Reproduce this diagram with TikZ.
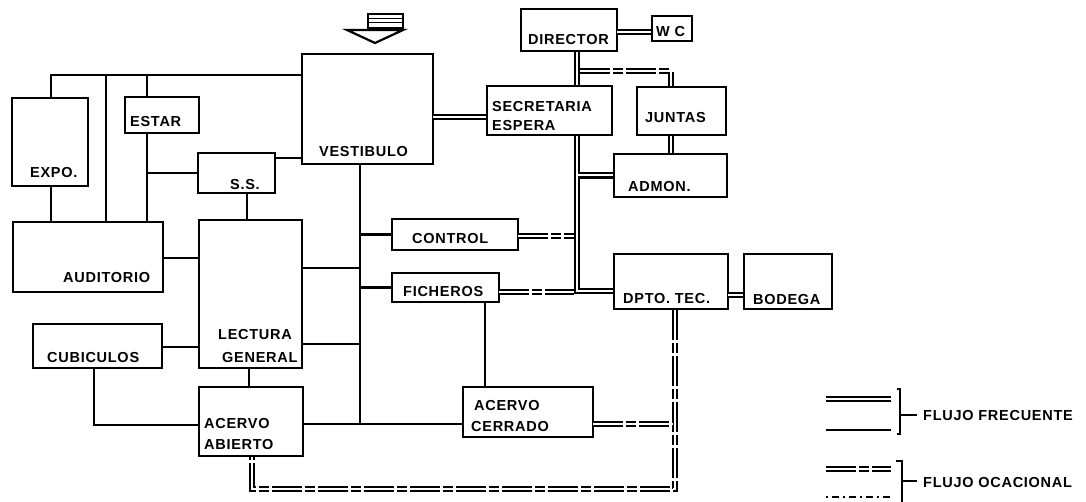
\documentclass[tikz,border=0pt]{standalone}
\usepackage{fontspec}
\newfontfamily\planofont{Liberation Sans}[LetterSpace=5]
\usepackage{tikz}
\usetikzlibrary{positioning, calc, fit}
\tikzset{
  room/.style={draw, line width=2.7pt, inner sep=0pt},
  lbl/.style={font=\planofont\bfseries\fontsize{14.5}{16}\selectfont,
    inner sep=0pt, anchor=base west},
  frecuente/.style={line width=2.6pt},
  leve/.style={line width=1.3pt},
  dobfrec/.style={double, line width=2.4pt, double distance=2pt},
  doblev/.style={double, line width=1.4pt, double distance=2.6pt},
  ocasional/.style={double, line width=1.3pt, double distance=2.6pt,
    dash pattern=on 30pt off 3pt on 10pt off 3pt},
  ocasdot/.style={line width=1.3pt, dash pattern=on 2pt off 4pt on 7pt off 4pt},
  corchete/.style={line width=1.3pt}
}
\begin{document}
\begin{tikzpicture}[x=1pt, y=-1pt]
  \useasboundingbox (0,0) rectangle (1086,502);
  % rooms
  \node[room, fit={(12,98) (88,186)}]    (expo)  {};
  \node[room, fit={(125,97) (199,133)}]  (estar) {};
  \node[room, fit={(198,153) (275,193)}] (ss)    {};
  \node[room, fit={(302,54) (433,164)}]  (vest)  {};
  \node[room, fit={(13,222) (163,292)}]  (aud)   {};
  \node[room, fit={(199,220) (302,368)}] (lec)   {};
  \node[room, fit={(33,324) (162,368)}]  (cub)   {};
  \node[room, fit={(199,387) (303,456)}] (aab)   {};
  \node[room, fit={(392,219) (518,250)}] (ctrl)  {};
  \node[room, fit={(392,273) (499,302)}] (fich)  {};
  \node[room, fit={(463,387) (593,437)}] (acer)  {};
  \node[room, fit={(521,9) (617,51)}]    (dir)   {};
  \node[room, fit={(652,16) (692,41)}]   (wc)    {};
  \node[room, fit={(487,86) (612,135)}]  (sec)   {};
  \node[room, fit={(637,87) (726,135)}]  (jun)   {};
  \node[room, fit={(614,154) (727,197)}] (adm)   {};
  \node[room, fit={(614,254) (728,309)}] (dpto)  {};
  \node[room, fit={(744,254) (832,309)}] (bod)   {};

  % room names
  \node[lbl] (expo-t)  at (30,178)  {EXPO.};
  \node[lbl] (estar-t) at (130,127) {ESTAR};
  \node[lbl] (ss-t)    at (230,190) {S.S.};
  \node[lbl] (vest-t)  at (319,157) {VESTIBULO};
  \node[lbl] (aud-t)   at (63,283)  {AUDITORIO};
  \node[lbl] (lec-t)   at (218,339) {LECTURA};
  \node[lbl] (lec-t2)  at (222,362) {GENERAL};
  \node[lbl] (cub-t)   at (47,362)  {CUBICULOS};
  \node[lbl] (aab-t)   at (204,428) {ACERVO};
  \node[lbl] (aab-t2)  at (204,449) {ABIERTO};
  \node[lbl] (ctrl-t)  at (412,244) {CONTROL};
  \node[lbl] (fich-t)  at (403,297) {FICHEROS};
  \node[lbl] (acer-t)  at (474,410) {ACERVO};
  \node[lbl] (acer-t2) at (471,431) {CERRADO};
  \node[lbl] (dir-t)   at (528,45)  {DIRECTOR};
  \node[lbl] (wc-t)    at (656,37)  {W C};
  \node[lbl] (sec-t)   at (492,112) {SECRETARIA};
  \node[lbl] (sec-t2)  at (492,131) {ESPERA};
  \node[lbl] (jun-t)   at (645,123) {JUNTAS};
  \node[lbl] (adm-t)   at (628,192) {ADMON.};
  \node[lbl] (dpto-t)  at (623,304) {DPTO. TEC.};
  \node[lbl] (bod-t)   at (753,305) {BODEGA};

  % entrance
  \draw[line width=1.5pt] (368,14) rectangle (403,28);
  \draw[line width=1pt] (368,18.5) -- (403,18.5) (368,23) -- (403,23);
  \draw[line width=2.2pt, line join=miter] (347,30) -- (403,30) -- (375,43) -- cycle;

  % junction points
  \coordinate (ejeA) at (147,75);
  \coordinate (ejeB) at (106,75);
  \coordinate (ejeC) at (51,75);
  \coordinate (ejeS) at (247,200);
  \coordinate (ejeL) at (249,380);
  \coordinate (ejeF) at (485,340);
  \coordinate (ejeK) at (94,425);
  \coordinate (espina) at (360,424);
  \coordinate (ssv)  at (275,158);
  \coordinate (lecA) at (302,268);
  \coordinate (lecB) at (302,344);
  \coordinate (audl) at (163,258);
  \coordinate (cubl) at (162,347);
  \coordinate (ejeD) at (577,291);
  \coordinate (ejeJ) at (671,71);
  \coordinate (wcl)  at (617,32);
  \coordinate (vsl)  at (433,117);
  \coordinate (dbl)  at (728,295);
  \coordinate (fichl) at (499,292);
  \coordinate (ctrll) at (518,236);
  \coordinate (ejeT) at (675,489);
  \coordinate (ejeU) at (252,489);
  \coordinate (acl)  at (593,424);

  % public wing
  \draw[leve] (ejeC |- expo.north) -- (ejeC) -- (ejeA);
  \draw[leve] (ejeB) -- (ejeB |- aud.north);
  \draw[leve] (ejeC |- expo.south) -- (ejeC |- aud.north);
  \draw[frecuente] (ejeA |- estar.north) -- (ejeA) -- (ejeA -| vest.west);
  \draw[frecuente] (ejeA |- estar.south) -- (ejeA |- aud.north);
  \draw[frecuente] (ejeA |- ss.west) -- (ss.west);
  \draw[frecuente] (ssv) -- (ssv -| vest.west);
  \draw[frecuente] (ejeS |- ss.south) -- (ejeS |- lec.north);
  \draw[frecuente] (espina |- vest.south) -- (espina);
  \draw[frecuente] (espina |- ctrl.west) -- (ctrl.west);
  \draw[frecuente] (espina |- fich.west) -- (fich.west);
  \draw[frecuente] (lecA) -- (lecA -| espina);
  \draw[frecuente] (lecB) -- (lecB -| espina);
  \draw[frecuente] (aab.east |- espina) -- (acer.west |- espina);
  \draw[frecuente] (ejeF |- fich.south) -- (ejeF |- acer.north);
  \draw[frecuente] (ejeL |- lec.south) -- (ejeL |- aab.north);
  \draw[leve] (audl) -- (audl -| lec.west);
  \draw[leve] (cubl) -- (cubl -| lec.west);
  \draw[leve] (ejeK |- cub.south) -- (ejeK) -- (ejeK -| aab.west);

  % administration
  \draw[doblev]  (vsl) -- (vsl -| sec.west);
  \draw[dobfrec] (wcl) -- (wcl -| wc.west);
  \draw[dobfrec] (ejeD |- dir.south) -- (ejeD |- sec.north);
  \draw[dobfrec] (ejeD |- sec.south) -- (ejeD) -- (ejeD -| dpto.west);
  \draw[dobfrec] ($(ejeD |- adm.west)+(1,0)$) -- (adm.west);
  \draw[ocasional] ($(ejeD |- ejeJ)+(3.4,0)$) -- (ejeJ) -- (ejeJ |- jun.north);
  \draw[doblev]  (ejeJ |- jun.south) -- (ejeJ |- adm.north);
  \draw[dobfrec] (dbl) -- (dbl -| bod.west);
  \draw[ocasional] (ctrll) -- ($(ctrll -| ejeD)+(-3.4,0)$);
  \draw[ocasional] (fichl) -- ($(fichl -| ejeD)+(-3.4,0)$);
  \draw[ocasional] (ejeT |- dpto.south) -- (ejeT) -- (ejeU) -- (ejeU |- aab.south);
  \draw[ocasional] (acl) -- ($(acl -| ejeT)+(-2.6,0)$);

  % legend
  \draw[dobfrec] (826,399) -- (891,399);
  \draw[frecuente] (826,430) -- (891,430);
  \draw[corchete] (897,389) -- (900,389) -- (900,434) -- (897,434);
  \draw[corchete] (900,415) -- (917,415);
  \node[lbl] (frec-t) at (923,420) {FLUJO FRECUENTE};
  \draw[ocasional] (826,469) -- (891,469);
  \draw[ocasdot] (826,497) -- (891,497);
  \draw[corchete] (896,461) -- (902,461) -- (902,502);
  \draw[corchete] (902,481) -- (917,481);
  \node[lbl] (ocas-t) at (923,487) {FLUJO OCACIONAL};
\end{tikzpicture}
\end{document}
